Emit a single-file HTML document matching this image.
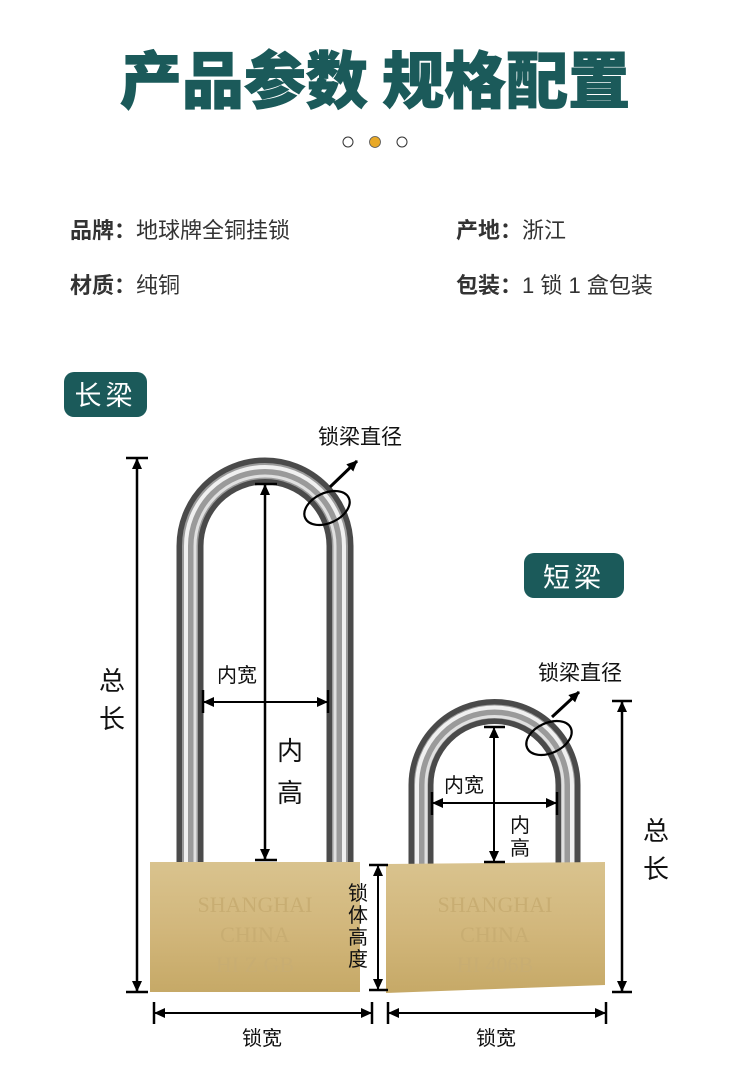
<!DOCTYPE html>
<html><head><meta charset="utf-8"><style>
html,body{margin:0;padding:0;background:#fff;}
body{width:750px;height:1070px;overflow:hidden;position:relative;font-family:"Liberation Sans","Noto Sans CJK SC",sans-serif;}
</style></head><body>
<svg width="750" height="1070" viewBox="0 0 750 1070" xmlns="http://www.w3.org/2000/svg" style="position:absolute;left:0;top:0" font-family="Liberation Sans, Noto Sans CJK SC, sans-serif">
<defs>
<linearGradient id="brass" x1="0" x2="0" y1="0" y2="1">
<stop offset="0" stop-color="#d9c38e"/><stop offset="0.5" stop-color="#d2b77c"/><stop offset="1" stop-color="#c6a967"/>
</linearGradient>
<marker id="ah" markerUnits="userSpaceOnUse" markerWidth="11" markerHeight="10" refX="10" refY="5" orient="auto-start-reverse"><path d="M0,0 L11,5 L0,10 Z" fill="#000"/></marker>
</defs>
<text x="375" y="103" text-anchor="middle" font-size="62" font-weight="900" fill="#1b5a5a" font-family="Noto Sans CJK SC, sans-serif" stroke="#1b5a5a" stroke-width="1">产品参数 规格配置</text>
<circle cx="348" cy="142" r="5" fill="#fff" stroke="#333" stroke-width="1"/>
<circle cx="375" cy="142" r="5.5" fill="#e8a928" stroke="#555" stroke-width="0.8"/>
<circle cx="402" cy="142" r="5" fill="#fff" stroke="#333" stroke-width="1"/>
<g font-size="22" fill="#333">
<text x="70" y="238"><tspan font-weight="bold">品牌：</tspan>地球牌全铜挂锁</text>
<text x="456" y="238"><tspan font-weight="bold">产地：</tspan>浙江</text>
<text x="70" y="293"><tspan font-weight="bold">材质：</tspan>纯铜</text>
<text x="456" y="293"><tspan font-weight="bold">包装：</tspan>1 锁 1 盒包装</text>
</g>
<rect x="64" y="372" width="83" height="45" rx="10" fill="#1b5a5a"/>
<text x="105.5" y="405" text-anchor="middle" font-size="27" fill="#fff" letter-spacing="4">长梁</text>
<rect x="524" y="553" width="100" height="45" rx="10" fill="#1b5a5a"/>
<text x="574" y="587" text-anchor="middle" font-size="27" fill="#fff" letter-spacing="4">短梁</text>
<path d="M190 865 V546 A75 75 0 0 1 340 546 V865" fill="none" stroke="#4a4a4a" stroke-width="27"/>
<path d="M190 865 V546 A75 75 0 0 1 340 546 V865" fill="none" stroke="#9a9a9a" stroke-width="16"/>
<path d="M186 865 V546 A79 79 0 0 1 344 546 V865" fill="none" stroke="#f0f0f0" stroke-width="4"/>
<path d="M195 865 V546 A70 70 0 0 1 335 546 V865" fill="none" stroke="#e0e0e0" stroke-width="3"/>
<rect x="150" y="862" width="210" height="130" fill="url(#brass)"/>
<g font-size="22" fill="#c8ad72" text-anchor="middle" font-family="Liberation Serif, serif"><text x="255" y="912">SHANGHAI</text><text x="255" y="942">CHINA</text><text x="255" y="972">HI Z  GB</text></g>
<path d="M421 865 V785 A73.5 73.5 0 0 1 568 785 V865" fill="none" stroke="#4a4a4a" stroke-width="25"/>
<path d="M421 865 V785 A73.5 73.5 0 0 1 568 785 V865" fill="none" stroke="#9a9a9a" stroke-width="14"/>
<path d="M417 865 V785 A77.5 77.5 0 0 1 572 785 V865" fill="none" stroke="#f0f0f0" stroke-width="4"/>
<path d="M426 865 V785 A68.5 68.5 0 0 1 563 785 V865" fill="none" stroke="#e0e0e0" stroke-width="3"/>
<path d="M386 864 L605 862 V985 L386 993 Z" fill="url(#brass)"/>
<g font-size="22" fill="#c8ad72" text-anchor="middle" font-family="Liberation Serif, serif"><text x="495" y="912">SHANGHAI</text><text x="495" y="942">CHINA</text><text x="495" y="972">HI 406B</text></g>
<g stroke="#000" stroke-width="2.5" fill="none">
<line x1="137" y1="459" x2="137" y2="991" marker-start="url(#ah)" marker-end="url(#ah)"/>
<line x1="126" y1="458" x2="148" y2="458"/><line x1="126" y1="992" x2="148" y2="992"/>
<line x1="265" y1="485" x2="265" y2="859" marker-start="url(#ah)" marker-end="url(#ah)"/>
<line x1="255" y1="484" x2="277" y2="484"/><line x1="255" y1="860" x2="277" y2="860"/>
<line x1="204" y1="702" x2="327" y2="702" stroke-width="2" marker-start="url(#ah)" marker-end="url(#ah)"/>
<line x1="203" y1="690" x2="203" y2="713"/><line x1="328" y1="690" x2="328" y2="713"/>
<line x1="378" y1="866" x2="378" y2="989" stroke-width="2" marker-start="url(#ah)" marker-end="url(#ah)"/>
<line x1="369" y1="865" x2="388" y2="865"/><line x1="369" y1="990" x2="388" y2="990"/>
<line x1="155" y1="1013" x2="371" y2="1013" stroke-width="2" marker-start="url(#ah)" marker-end="url(#ah)"/>
<line x1="154" y1="1002" x2="154" y2="1024"/><line x1="372" y1="1002" x2="372" y2="1024"/>
<line x1="389" y1="1013" x2="605" y2="1013" stroke-width="2" marker-start="url(#ah)" marker-end="url(#ah)"/>
<line x1="388" y1="1002" x2="388" y2="1024"/><line x1="606" y1="1002" x2="606" y2="1024"/>
<line x1="622" y1="702" x2="622" y2="991" marker-start="url(#ah)" marker-end="url(#ah)"/>
<line x1="612" y1="701" x2="632" y2="701"/><line x1="612" y1="992" x2="632" y2="992"/>
<line x1="494" y1="728" x2="494" y2="861" stroke-width="2" marker-start="url(#ah)" marker-end="url(#ah)"/>
<line x1="484" y1="727" x2="505" y2="727"/><line x1="484" y1="862" x2="505" y2="862"/>
<line x1="433" y1="803" x2="556" y2="803" stroke-width="2" marker-start="url(#ah)" marker-end="url(#ah)"/>
<line x1="432" y1="792" x2="432" y2="815"/><line x1="557" y1="792" x2="557" y2="815"/>
<ellipse cx="327" cy="508" rx="24" ry="15" transform="rotate(-25 327 508)" stroke-width="2.2"/>
<line x1="330" y1="487" x2="357" y2="461" stroke-width="3" marker-end="url(#ah)"/>
<ellipse cx="549" cy="738" rx="24" ry="15" transform="rotate(-25 549 738)" stroke-width="2.2"/>
<line x1="552" y1="717" x2="579" y2="692" stroke-width="3" marker-end="url(#ah)"/>
</g>
<g fill="#111" text-anchor="middle">
<text x="112" y="690" font-size="26">总</text><text x="112" y="728" font-size="26">长</text>
<text x="290" y="760" font-size="26">内</text><text x="290" y="802" font-size="26">高</text>
<text x="237" y="682" font-size="20">内宽</text>
<text x="358" y="900" font-size="20">锁</text><text x="358" y="922" font-size="20">体</text><text x="358" y="944" font-size="20">高</text><text x="358" y="966" font-size="20">度</text>
<text x="262" y="1045" font-size="20">锁宽</text><text x="496" y="1045" font-size="20">锁宽</text>
<text x="360" y="444" font-size="21">锁梁直径</text><text x="580" y="680" font-size="21">锁梁直径</text>
<text x="464" y="792" font-size="20">内宽</text>
<text x="520" y="832" font-size="20">内</text><text x="520" y="855" font-size="20">高</text>
<text x="656" y="840" font-size="26">总</text><text x="656" y="878" font-size="26">长</text>
</g>
</svg>
</body></html>
